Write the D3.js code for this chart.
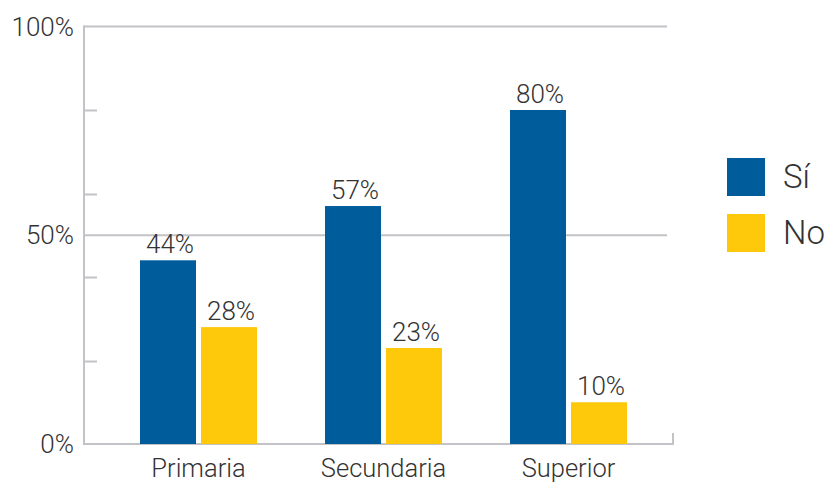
<!DOCTYPE html>
<html><head><meta charset="utf-8">
<script src="https://cdn.jsdelivr.net/npm/d3@7"></script>
<style>body{margin:0;background:#fff;} text{font-family:Roboto, "Liberation Sans", sans-serif;font-weight:300;fill:#333;}</style>
</head><body>
<svg id="c" width="828" height="482"></svg>
<script>
const categories = ["Primaria", "Secundaria", "Superior"];
const seriesNames = ["Sí", "No"];
const siValues = [44, 57, 80];
const noValues = [28, 23, 10];
const gridTicks = [50, 100];
const minorTicks = [20, 40, 60, 80];
const yTickLabels = [0, 50, 100];
const colors = ["#005c9a", "#ffc90b"];

const data = categories.map((c, i) => ({cat: c, vals: [siValues[i], noValues[i]]}));
const svg = d3.select("#c");
const axisColor = "#c3c3c7";
const y = d3.scaleLinear().domain([0, 100]).range([444, 26.5]);
const x0 = d3.scaleBand().domain(categories).range([106, 661]);
const x1 = d3.scaleBand().domain(seriesNames).range([34, 151]).paddingInner(0.082);

// gridlines
svg.selectAll(".grid").data(gridTicks).enter().append("line")
  .attr("x1", 83).attr("x2", 667).attr("y1", d => y(d)).attr("y2", d => y(d))
  .attr("stroke", axisColor).attr("stroke-width", 2);
// minor ticks
svg.selectAll(".mt").data(minorTicks).enter().append("line")
  .attr("x1", 83).attr("x2", 97).attr("y1", d => Math.round(y(d)) + 0.5).attr("y2", d => Math.round(y(d)) + 0.5)
  .attr("stroke", axisColor).attr("stroke-width", 2);
// y axis line
svg.append("line").attr("x1", 84).attr("x2", 84).attr("y1", y(100) - 1).attr("y2", y(0) + 1)
  .attr("stroke", axisColor).attr("stroke-width", 2);
// x axis line
svg.append("line").attr("x1", 83).attr("x2", 674).attr("y1", y(0)).attr("y2", y(0))
  .attr("stroke", axisColor).attr("stroke-width", 2);
svg.append("line").attr("x1", 673).attr("x2", 673).attr("y1", y(0) - 11).attr("y2", y(0) + 1)
  .attr("stroke", axisColor).attr("stroke-width", 2);

// y labels
svg.selectAll(".yl").data(yTickLabels).enter().append("text")
  .attr("x", 74).attr("y", d => y(d) + 9).attr("text-anchor", "end")
  .attr("font-size", 26).text(d => d + "%");

// bars
const g = svg.selectAll(".grp").data(data).enter().append("g")
  .attr("transform", d => `translate(${x0(d.cat)},0)`);
g.selectAll("rect").data(d => d.vals.map((v, i) => ({k: seriesNames[i], v, i}))).enter().append("rect")
  .attr("x", d => x1(d.k)).attr("width", x1.bandwidth())
  .attr("y", d => y(d.v)).attr("height", d => y(0) - y(d.v))
  .attr("fill", d => colors[d.i]);
g.selectAll(".vl").data(d => d.vals.map((v, i) => ({k: seriesNames[i], v, i}))).enter().append("text")
  .attr("x", d => x1(d.k) + x1.bandwidth() / 2 + 2).attr("y", d => y(d.v) - 7)
  .attr("text-anchor", "middle").attr("font-size", 26).text(d => d.v + "%");

// x labels
svg.selectAll(".xl").data(categories).enter().append("text")
  .attr("x", d => x0(d) + x0.bandwidth() / 2).attr("y", 477)
  .attr("text-anchor", "middle").attr("font-size", 25.5).text(d => d);

// legend
const lg = svg.selectAll(".lg").data(seriesNames).enter().append("g")
  .attr("transform", (d, i) => `translate(727,${158 + i * 56})`);
lg.append("rect").attr("width", 38).attr("height", 38).attr("fill", (d, i) => colors[i]);
lg.append("text").attr("x", 56).attr("y", 30).attr("font-size", 33).text(d => d);
</script>
</body></html>
